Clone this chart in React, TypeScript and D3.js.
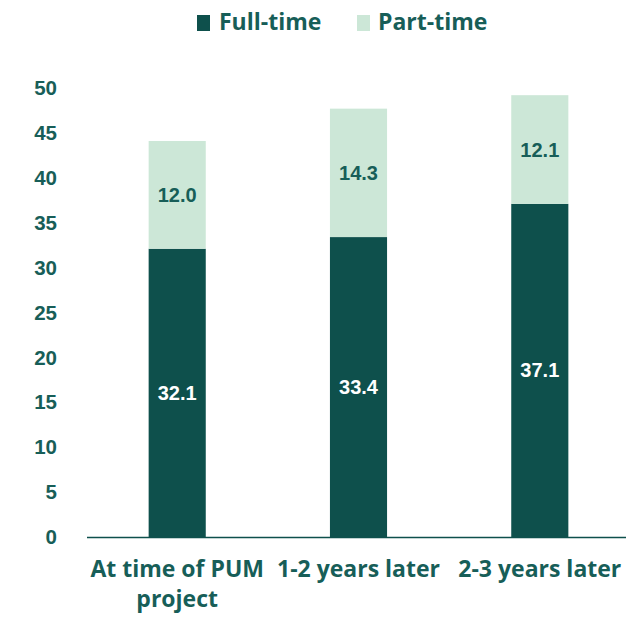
import React from "react";
import * as d3 from "d3";

const categories = ["At time of PUM project", "1-2 years later", "2-3 years later"];
const categoryLines = [["At time of PUM", "project"], ["1-2 years later"], ["2-3 years later"]];
const fullTime = [32.1, 33.4, 37.1];
const partTime = [12.0, 14.3, 12.1];
const seriesNames = ["Full-time", "Part-time"];
const yTicks = [0, 5, 10, 15, 20, 25, 30, 35, 40, 45, 50];

const DARK = "#0e504c";
const LIGHT = "#cce7d7";
const TEXT = "#175e58";

export default function App() {
  const W = 626, H = 624;
  const y = d3.scaleLinear().domain([0, 50]).range([537, 88]);
  const x = d3.scaleBand().domain(categories).range([87, 630]).paddingInner(0.685).paddingOuter(0.34);
  const rows = categories.map((c, i) => ({ c, full: fullTime[i], part: partTime[i] }));
  const stack = d3.stack<any>().keys(["full", "part"])(rows);
  const colors = [DARK, LIGHT];
  const font = "'Liberation Sans', Arial, sans-serif";
  const catFont = "'Open Sans', Lato, sans-serif";
  return (
    <svg width={W} height={H} style={{ position: "absolute", left: 0, top: 0, background: "#fff" }}>
      {/* legend */}
      <rect x={197} y={15} width={13} height={16} fill={DARK} />
      <text x={219} y={30} fontFamily={catFont} fontWeight={700} fontSize={23} fill={TEXT}>{seriesNames[0]}</text>
      <rect x={357} y={15} width={13} height={16} fill={LIGHT} />
      <text x={378} y={30} fontFamily={catFont} fontWeight={700} fontSize={23} fill={TEXT}>{seriesNames[1]}</text>
      {/* y ticks */}
      {yTicks.map(t => (
        <text key={t} x={57} y={y(t)} dy="0.35em" textAnchor="end" fontFamily={font} fontWeight={700} fontSize={20.5} fill={TEXT}>{t}</text>
      ))}
      {/* bars */}
      {stack.map((s, si) => s.map((d, i) => (
        <rect key={si + "-" + i} x={x(categories[i])} y={y(d[1])} width={x.bandwidth()} height={y(d[0]) - y(d[1])} fill={colors[si]} />
      )))}
      {/* labels */}
      {stack.map((s, si) => s.map((d, i) => (
        <text key={"l" + si + "-" + i} x={(x(categories[i]) as number) + x.bandwidth() / 2} y={y((d[0] + d[1]) / 2)} dy="0.35em" textAnchor="middle" fontFamily={font} fontWeight={700} fontSize={20} fill={si === 0 ? "#fff" : TEXT}>
          {(d[1] - d[0]).toFixed(1)}
        </text>
      )))}
      {/* baseline */}
      <line x1={87} x2={626} y1={y(0) + 0.5} y2={y(0) + 0.5} stroke={DARK} strokeWidth={1.5} />
      {/* category labels */}
      {categoryLines.map((lines, i) => (
        <text key={"c" + i} textAnchor="middle" fontFamily={catFont} fontWeight={700} fontSize={23} fill={TEXT}>
          {lines.map((ln, j) => (
            <tspan key={j} x={(x(categories[i]) as number) + x.bandwidth() / 2} y={577 + j * 30}>{ln}</tspan>
          ))}
        </text>
      ))}
    </svg>
  );
}
